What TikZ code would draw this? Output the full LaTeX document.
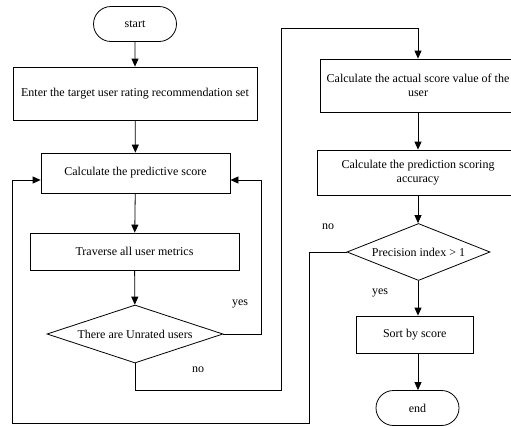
\documentclass[tikz,border=0pt]{standalone}
\usepackage{fontspec}
\setmainfont{Liberation Serif}
\usetikzlibrary{arrows.meta,shapes.geometric,shapes.misc}
\begin{document}
\begin{tikzpicture}[x=1pt,y=-1pt,
  every node/.style={font=\fontsize{12}{14}\selectfont},
  line/.style={draw=black,line width=0.8pt},
  arr/.style={line,-{Triangle[length=8pt,width=7pt]}},
  term/.style={line,rounded rectangle,minimum width=83pt,minimum height=35pt,inner sep=0pt},
  proc/.style={line,rectangle,inner sep=0pt,align=center},
  dec/.style={line,diamond,inner sep=0pt},
  lbl/.style={inner sep=0pt}]
\useasboundingbox (0,0) rectangle (511,426);
% left column
\node[term] (start) at (135,24) {start};
\node[proc,minimum width=244pt,minimum height=53pt] (enter) at (135,93.5) {Enter the target user rating recommendation set};
\node[proc,minimum width=189pt,minimum height=40pt] (pred) at (135.5,173) {Calculate the predictive score};
\node[proc,minimum width=209pt,minimum height=37pt] (trav) at (134.5,251.5) {Traverse all user metrics};
\node[dec,aspect=3.03,minimum width=176pt,minimum height=58pt] (d1) at (135,334) {There are Unrated users};
% right column
\node[proc,minimum width=196pt,minimum height=53pt] (act) at (418,85.5) {Calculate the actual score value of the\\user};
\node[proc,minimum width=202pt,minimum height=45pt] (acc) at (418,172.5) {Calculate the prediction scoring\\accuracy};
\node[dec,aspect=2.5,minimum width=143pt,minimum height=57pt] (d2) at (418.5,252) {Precision index {>} 1};
\node[proc,minimum width=117pt,minimum height=37pt] (sort) at (414.7,334.5) {Sort by score};
\node[term] (end) at (417.5,408) {end};
% labels
\node[lbl] (yes1) at (240,304) {yes};
\node[lbl] (no1) at (198,370) {no};
\node[lbl] (no2) at (328,227) {no};
\node[lbl] (yes2) at (380,293) {yes};
% helper coordinates
\coordinate (r1) at (261,334);
\coordinate (b1) at (135,390);
\coordinate (b2) at (281,390);
\coordinate (t1) at (281,28);
\coordinate (t2) at (418,28);
\coordinate (n1) at (309,252);
\coordinate (n2) at (309,423);
\coordinate (n3) at (12,423);
\coordinate (n4) at (12,180);
% connectors
\draw[arr] (start) -- (enter);
\draw[arr] (enter) -- (pred);
\draw[arr] (pred) -- (trav);
\draw[arr] (trav) -- (d1);
\draw[arr] (d1.east) -- (r1) -- (r1 |- n4) -- (pred.east |- n4);
\draw[arr] (d1.south) -- (b1) -- (b2) -- (t1) -- (t2) -- (act.north -| t2);
\draw[arr] (act.south -| t2) -- (acc.north -| t2);
\draw[arr] (acc.south -| t2) -- (d2.north -| t2);
\draw[arr] (d2.south -| t2) -- (sort.north -| t2);
\draw[arr] (sort.south -| t2) -- (end.north -| t2);
\draw[arr] (d2.west) -- (n1) -- (n2) -- (n3) -- (n4) -- (pred.west |- n4);
\end{tikzpicture}
\end{document}
